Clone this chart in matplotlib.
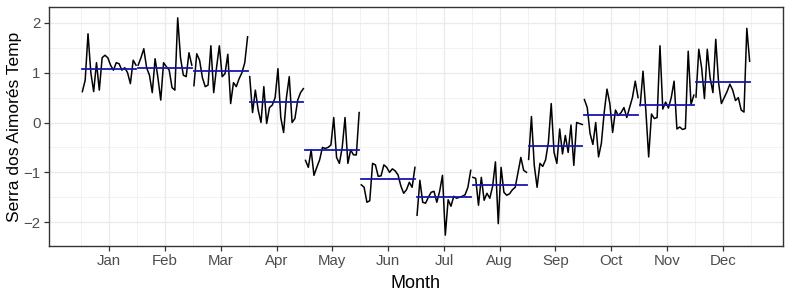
import numpy as np
import matplotlib
matplotlib.use("Agg")
import matplotlib.pyplot as plt
from matplotlib.ticker import MultipleLocator

months = ["Jan", "Feb", "Mar", "Apr", "May", "Jun",
          "Jul", "Aug", "Sep", "Oct", "Nov", "Dec"]

jan = [0.62, 0.85, 1.78, 1.0, 0.62, 1.2, 0.65, 1.3, 1.35, 1.3,
       1.15, 1.05, 1.2, 1.18, 1.05, 1.1, 1.0, 0.78, 1.25, 1.15]
feb = [1.15, 1.3, 1.48, 1.1, 0.95, 0.6, 1.28, 0.9, 0.45, 1.2,
       1.12, 1.05, 0.7, 0.65, 2.1, 1.3, 0.95, 0.92, 1.4, 1.15]
mar = [0.74, 1.38, 1.25, 0.9, 0.72, 0.75, 1.54, 0.6, 1.1, 1.54,
       0.92, 0.98, 1.37, 0.38, 0.8, 0.72, 0.88, 1.0, 1.2, 1.72]
apr = [0.92, 0.2, 0.65, 0.25, 0.0, 0.72, -0.02, 0.3, 0.35, 0.5,
       1.08, 0.1, -0.2, 0.5, 0.92, 0.0, 0.08, 0.45, 0.6, 0.68]
may = [-0.76, -0.9, -0.55, -1.06, -0.9, -0.75, -0.5, -0.52, -0.5, -0.45,
       0.1, -0.7, -0.82, -0.5, 0.1, -0.82, -0.55, -0.65, -0.65, 0.2]
jun = [-1.25, -1.3, -1.6, -1.57, -0.82, -0.85, -1.08, -1.07, -0.85, -0.9,
       -1.0, -0.93, -0.97, -1.05, -1.27, -1.42, -1.35, -1.2, -1.3, -0.9]
jul = [-1.86, -1.16, -1.6, -1.62, -1.5, -1.4, -1.38, -1.6, -1.38, -1.06,
       -2.26, -1.55, -1.68, -1.48, -1.52, -1.5, -1.48, -1.45, -1.3, -0.96]
aug = [-1.1, -1.12, -1.66, -1.1, -1.56, -1.42, -1.52, -1.28, -0.79, -2.03,
       -0.9, -1.4, -1.46, -1.43, -1.35, -1.3, -1.0, -0.7, -0.96, -1.0]
sep = [-0.74, 0.12, -0.86, -1.3, -0.82, -0.88, -0.75, -0.4, 0.38, -0.6,
       -0.82, -0.13, -0.63, -0.26, -0.6, -0.05, -0.86, 0.0, -0.02, -0.04]
oct_ = [0.46, 0.3, -0.22, -0.44, 0.0, -0.69, -0.42, 0.2, 0.67, 0.38,
        -0.2, 0.25, 0.14, 0.2, 0.3, 0.1, 0.3, 0.5, 0.83, 0.5]
nov = [0.34, 1.03, 0.24, -0.69, 0.17, 0.08, 0.1, 1.54, 0.27, 0.41,
       0.29, 0.5, 0.83, -0.13, -0.09, -0.14, -0.12, 1.43, 0.36, 0.55]
dec = [0.51, 1.47, 1.1, 0.48, 1.47, 0.9, 0.6, 1.67, 0.8, 0.38,
       0.5, 0.62, 0.77, 0.65, 0.44, 0.5, 0.25, 0.21, 1.89, 1.23]

series = [jan, feb, mar, apr, may, jun, jul, aug, sep, oct_, nov, dec]

plt.rcParams['font.family'] = ['Liberation Sans', 'DejaVu Sans']

fig = plt.figure(figsize=(7.93, 2.97), dpi=100)
ax = fig.add_axes([49 / 793, 1 - 246 / 297, (783 - 49) / 793, (246 - 7) / 297])

half = 0.481
allv = []
for m, vals in enumerate(series, start=1):
    vals = np.asarray(vals)
    n = len(vals)
    x = m - half + np.arange(n) * (2 * half / (n - 1))
    ax.plot(x, vals, color='black', lw=1.1, zorder=3, solid_joinstyle='round')
    mu = vals.mean()
    ax.plot([m - half, m + half], [mu, mu], color='#1616b0', lw=1.3, zorder=4)
    allv.extend(vals)

lo, hi = 1 - half, 12 + half
pad = 0.05 * (hi - lo)
ax.set_xlim(lo - pad, hi + pad)
ymin, ymax = min(allv), max(allv)
ypad = 0.05 * (ymax - ymin)
ax.set_ylim(ymin - ypad, ymax + ypad)

ax.set_xticks(range(1, 13))
ax.set_xticklabels(months)
ax.xaxis.set_minor_locator(MultipleLocator(1, offset=0.5))
ax.set_yticks([-2, -1, 0, 1, 2])
ax.set_yticklabels(['\u22122', '\u22121', '0', '1', '2'])
ax.yaxis.set_minor_locator(MultipleLocator(0.5))

ax.grid(True, which='major', color='#ebebeb', lw=1.0, zorder=0)
ax.grid(True, which='minor', color='#f0f0f0', lw=0.6, zorder=0)
ax.set_axisbelow(True)
for s in ax.spines.values():
    s.set_color('#333333')
    s.set_linewidth(1.0)
ax.tick_params(which='major', length=3.5, color='#333333', width=0.9,
               labelsize=10.8, labelcolor='#4d4d4d', pad=2.5)
ax.tick_params(which='minor', length=0)

ax.set_xlabel('Month', fontsize=13, color='black', va='center')
ax.xaxis.set_label_coords(0.5, (246 - 283) / 239)
ax.set_ylabel('Serra dos Aimorés Temp', fontsize=12.5, color='black', va='center')
ax.yaxis.set_label_coords((15 - 49) / 734, 0.5)

fig.savefig('out.png', dpi=100, facecolor='white')
